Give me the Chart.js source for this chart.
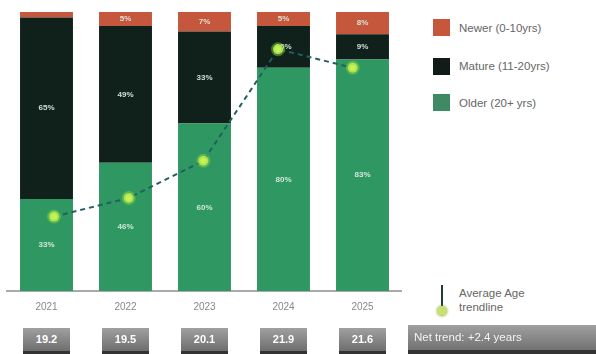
<!DOCTYPE html>
<html>
<head>
<meta charset="utf-8">
<script src="https://cdn.jsdelivr.net/npm/chart.js@4.4.1/dist/chart.umd.min.js"></script>
<style>
  body { margin: 0; background: #fff; font-family: "Liberation Sans", Arial, sans-serif; }
  #wrap { position: relative; width: 596px; height: 354px; overflow: hidden; }
  #c { position: absolute; left: 0; top: 0; }
  .lg { position: absolute; left: 433px; width: 17px; height: 17px; }
  .lgt { position: absolute; left: 459px; font-size: 11.5px; color: #666; line-height: 14px; }
  .box { position: absolute; top: 328px; height: 26px; width: 47px; color: #fff; font-size: 11px; font-weight: bold;
         text-align: center; line-height: 23px; background: linear-gradient(#a0a0a0, #6e6e6e);
         border-bottom: 3px solid #333; box-sizing: border-box; }
  #trend { position: absolute; left: 408px; top: 325px; width: 188px; height: 29px; color: #f4f4f4; font-size: 11.5px;
           line-height: 25px; padding-left: 6px; box-sizing: border-box; background: linear-gradient(#a0a0a0, #727272);
           border-bottom: 4px solid #333; }
</style>
</head>
<body>
<div id="wrap">
  <canvas id="c" width="402" height="354"></canvas>

  <div class="lg" style="top:19px;background:#c4573c"></div>
  <div class="lgt" style="top:21px">Newer (0-10yrs)</div>
  <div class="lg" style="top:58px;background:#111b18"></div>
  <div class="lgt" style="top:59px">Mature (11-20yrs)</div>
  <div class="lg" style="top:94px;background:#3d8a65"></div>
  <div class="lgt" style="top:96px">Older (20+ yrs)</div>

  <div style="position:absolute;left:441px;top:285px;width:2px;height:31px;background:#1d3a34"></div>
  <div style="position:absolute;left:437px;top:306px;width:10px;height:10px;border-radius:50%;background:#c8e070;box-shadow:0 0 3px #8a9a40"></div>
  <div class="lgt" style="top:286px">Average Age<br>trendline</div>

  <div id="boxes"></div>
  <div id="trend"></div>
</div>

<script>
// data
const years = ['2021', '2022', '2023', '2024', '2025'];
const older = [33, 46, 60, 80, 83];
const mature = [65, 49, 33, 15, 9];
const newer = [2, 5, 7, 5, 8];
const avgAge = [19.2, 19.5, 20.1, 21.9, 21.6];

// labels inside the bar segments
const segLabels = {
    id: 'segLabels',
    afterDatasetDraw(chart, args) {
        const ds = chart.data.datasets[args.index];
        if (ds.type === 'line') return;
        const ctx = chart.ctx;
        ctx.save();
        ctx.font = 'bold 8px "Liberation Sans", Arial, sans-serif';
        ctx.fillStyle = 'rgba(225,240,232,0.9)';
        ctx.textAlign = 'center';
        ctx.textBaseline = 'middle';
        args.meta.data.forEach((bar, i) => {
            const v = ds.data[i];
            if (v < 4) return;
            ctx.fillText(v + '%', bar.x, (bar.y + bar.base) / 2);
        });
        ctx.restore();
    }
};

var ctx = document.getElementById('c').getContext('2d');
var myChart = new Chart(ctx, {
    type: 'bar',
    data: {
        labels: years,
        datasets: [
            { label: 'Older (20+ yrs)', data: older, backgroundColor: '#2f9862', order: 1 },
            { label: 'Mature (11-20yrs)', data: mature, backgroundColor: '#10201b', order: 1 },
            { label: 'Newer (0-10yrs)', data: newer, backgroundColor: '#c4573c', order: 1 },
            {
                type: 'line',
                label: 'Average Age',
                data: avgAge.map((v, i) => ({ x: i, y: v })),
                xAxisID: 'x2',
                yAxisID: 'y2',
                borderColor: '#245f60',
                borderWidth: 2,
                borderDash: [5, 4],
                pointRadius: 5,
                pointBackgroundColor: '#c6f05c',
                pointBorderColor: 'rgba(140,215,60,0.45)',
                pointBorderWidth: 4,
                order: 0
            }
        ]
    },
    options: {
        responsive: false,
        animation: false,
        layout: { autoPadding: false, padding: { left: 7, right: 0, top: 12, bottom: 31 } },
        datasets: { bar: { barPercentage: 0.67, categoryPercentage: 1, grouped: false } },
        plugins: { legend: { display: false }, tooltip: { enabled: false } },
        scales: {
            x: {
                stacked: true,
                grid: { display: false, drawTicks: false },
                border: { color: '#aaaaaa', width: 2 },
                ticks: { color: '#888', font: { size: 10 }, padding: 10 }
            },
            y: { stacked: true, min: 0, max: 100, display: false },
            x2: { type: 'linear', display: false, offset: false, grid: { offset: false }, min: -0.63, max: 4.66 },
            y2: { type: 'linear', display: false, min: 18, max: 22.5 }
        }
    },
    plugins: [segLabels]
});

// boxes under the axis with the average age
const boxes = document.getElementById('boxes');
const xs = myChart.scales.x;
years.forEach((y, i) => {
    const d = document.createElement('div');
    d.className = 'box';
    d.style.left = (xs.getPixelForValue(i) - 23.5) + 'px';
    d.textContent = avgAge[i].toFixed(1);
    boxes.appendChild(d);
});
const diff = avgAge[avgAge.length - 1] - avgAge[0];
document.getElementById('trend').textContent = 'Net trend: +' + diff.toFixed(1) + ' years';
</script>
</body>
</html>
